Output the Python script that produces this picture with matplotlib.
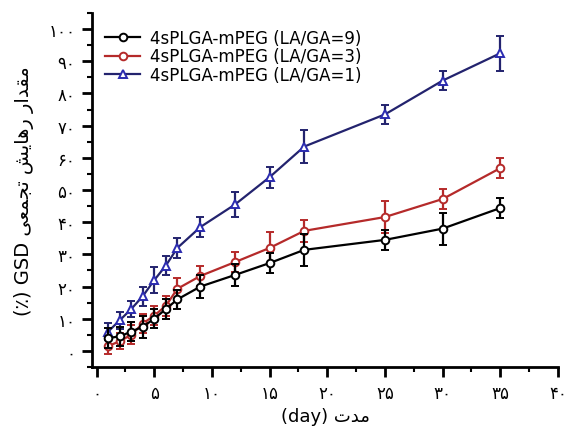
import matplotlib
matplotlib.use("Agg")
import matplotlib.pyplot as plt
from matplotlib.ticker import MultipleLocator, FixedLocator

plt.rcParams['font.family'] = ['DejaVu Sans']

days = [1, 2, 3, 4, 5, 6, 7, 9, 12, 15, 18, 25, 30, 35]
labels = ["4sPLGA-mPEG (LA/GA=9)", "4sPLGA-mPEG (LA/GA=3)", "4sPLGA-mPEG (LA/GA=1)"]
release_9 = [4.0, 4.5, 6.0, 7.5, 10.0, 13.0, 16.0, 20.0, 23.6, 27.3, 31.4, 34.5, 38.0, 44.4]
err_9 = [3.0, 3.0, 3.0, 3.5, 3.0, 3.0, 3.0, 3.5, 3.5, 3.0, 5.0, 3.0, 5.0, 3.0]
release_3 = [1.5, 3.0, 5.0, 8.5, 11.0, 14.0, 19.3, 23.3, 27.6, 32.0, 37.3, 41.6, 47.2, 56.8]
err_3 = [2.5, 2.5, 3.0, 3.0, 3.0, 3.0, 3.5, 3.0, 3.0, 5.0, 3.5, 5.0, 3.0, 3.0]
release_1 = [6.0, 9.5, 13.0, 17.0, 22.0, 26.5, 32.0, 38.5, 45.5, 54.0, 63.5, 73.5, 84.0, 92.5]
err_1 = [2.6, 2.6, 2.6, 3.0, 4.0, 3.0, 3.0, 3.0, 4.0, 3.3, 5.0, 3.0, 3.0, 5.5]

x_ticks = [0, 5, 10, 15, 20, 25, 30, 35, 40]
y_ticks = [0, 10, 20, 30, 40, 50, 60, 70, 80, 90, 100]

# Persian digits
fa = str.maketrans("0123456789", "\u06F0\u06F1\u06F2\u06F3\u06F4\u06F5\u06F6\u06F7\u06F8\u06F9")
def to_fa(v):
    return str(v).translate(fa)

# Persian words in visual (left-to-right) order using presentation forms
w_modat = "\uFE95\uFEAA\uFEE3"                       # مدت
w_meghdar = "\uFEAD\uFE8D\uFEAA\uFED8\uFEE3"         # مقدار
w_rahayesh = "\uFEB6\uFEF3\uFE8E\uFEEB\uFEAD"        # رهایش
w_tajmi = "\uFEF0\uFECC\uFEE4\uFEA0\uFE97"           # تجمعی
xlabel = "(day) " + w_modat
ylabel = "(\u066A) GSD " + w_tajmi + " " + w_rahayesh + " " + w_meghdar

fig = plt.figure(figsize=(5.69, 4.31), dpi=100)
ax = fig.add_axes([92/569, 1-368/431, (558-92)/569, (368-14)/431])

series = [
    (release_9, err_9, '#000000', '#000000', 'o', 4),
    (release_3, err_3, '#b52a2a', '#b52a2a', 'o', 3),
    (release_1, err_1, '#23236e', '#2b2bb0', '^', 2),
]
handles = []
for (vals, errs, lc, mc, mk, z), lab in zip(series, labels):
    cont = ax.errorbar(days, vals, yerr=errs, color=lc, lw=1.6, marker=mk, ms=5.5,
                       mfc='white', mec=mc, mew=1.4, ecolor=lc, elinewidth=1.6,
                       capsize=3, capthick=1.6, label=lab, zorder=z)
    handles.append(cont[0])

ax.set_xlim(-0.4, 40)
ax.set_ylim(-5, 105)
ax.xaxis.set_major_locator(FixedLocator(x_ticks))
ax.yaxis.set_major_locator(FixedLocator(y_ticks))
ax.xaxis.set_minor_locator(MultipleLocator(2.5))
ax.yaxis.set_minor_locator(MultipleLocator(5))
ax.set_xticklabels([to_fa(v) for v in x_ticks], fontsize=12)
ax.set_yticklabels([to_fa(v) for v in y_ticks], fontsize=12)

for s in ['top', 'right']:
    ax.spines[s].set_visible(False)
for s in ['left', 'bottom']:
    ax.spines[s].set_linewidth(2)
ax.tick_params(which='major', direction='out', length=7, width=2, pad=5)
ax.tick_params(which='minor', direction='out', length=3.5, width=1.5)

ax.set_xlabel(xlabel, fontsize=13, labelpad=4)
ax.set_ylabel(ylabel, fontsize=14, labelpad=10)

leg = ax.legend(handles=handles, labels=labels, loc='upper left',
                bbox_to_anchor=(0.028, 0.955), frameon=False,
                fontsize=12, handlelength=2.1, handletextpad=0.6,
                labelspacing=0.03, borderpad=0, borderaxespad=0)

fig.savefig("out.png", dpi=100)
